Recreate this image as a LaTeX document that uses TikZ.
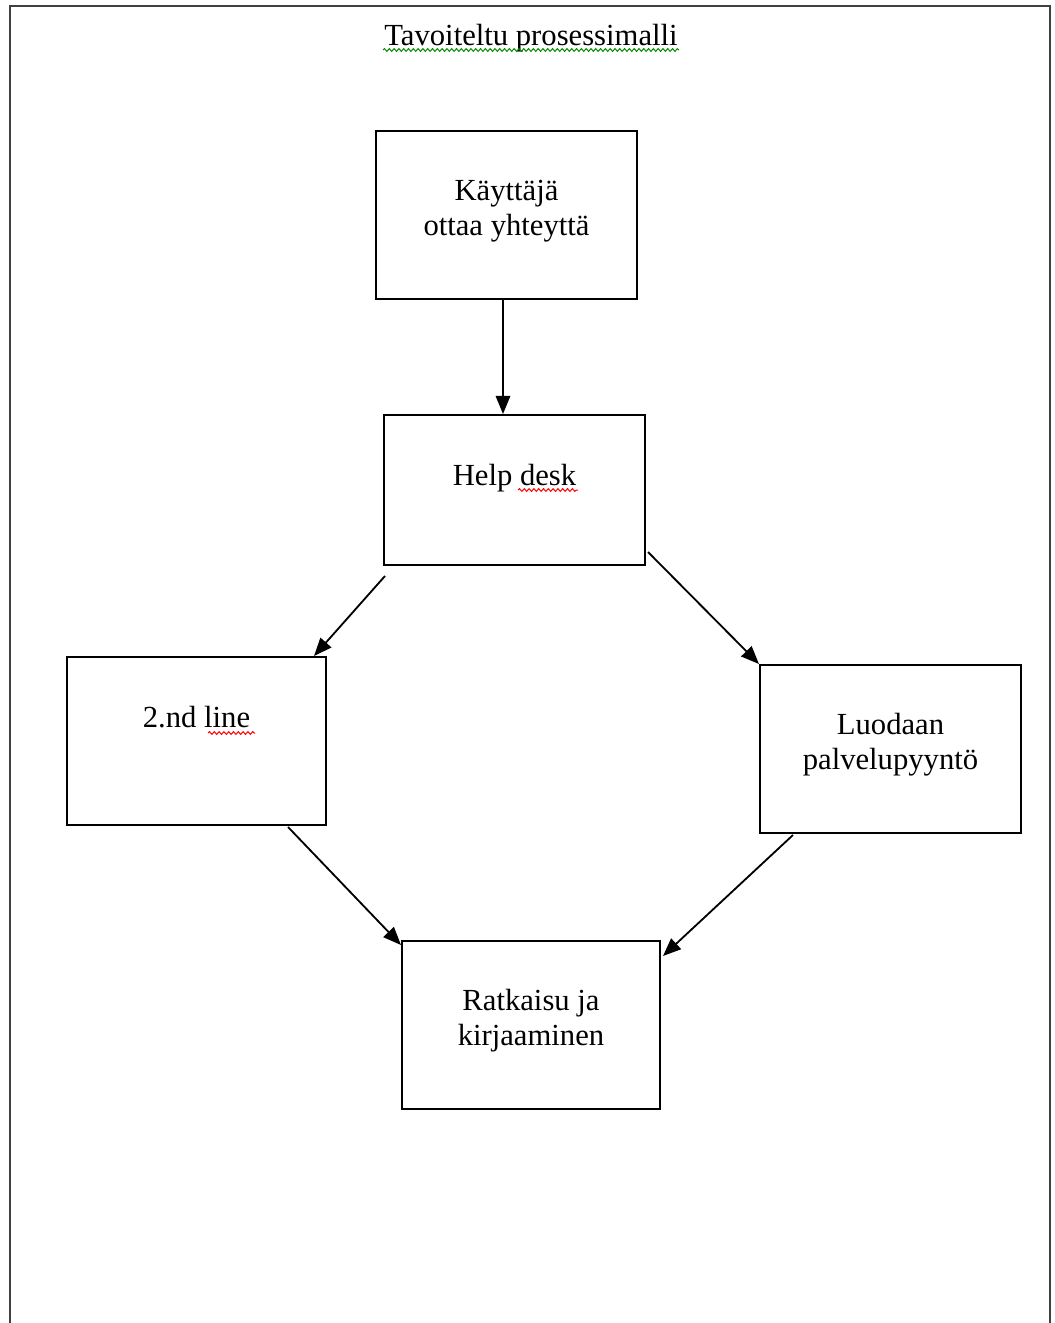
\documentclass[tikz,border=0pt]{standalone}
\usepackage{fontspec}
\setmainfont{Liberation Serif}
\usetikzlibrary{calc,arrows.meta}
\usetikzlibrary{decorations.pathmorphing}

\begin{document}
\begin{tikzpicture}[x=0.025cm, y=-0.025cm,
  stepbox/.style={draw, line width=1.4pt, minimum width=6.525cm, minimum height=4.2cm, inner sep=0pt},
  boxtext/.style={font=\fontsize{21.8}{24.2}\selectfont, align=center, anchor=base, inner sep=0pt},
  flow/.style={line width=1.3pt, -{Triangle[length=0.45cm,width=0.36cm]}},
  spellred/.style={red, line width=0.7pt, decorate, decoration={snake, amplitude=0.035cm, segment length=0.12cm}},
  spellgreen/.style={spellred, green!55!black}]
\useasboundingbox (0,0) rectangle (1054,1323);
% the page edge, open at the bottom
\draw[black!75, line width=0.05cm] (10,1323) -- (10,6) -- (1050,6) -- (1050,1323);
% title
\node[boxtext] (title) at (531,45) {Tavoiteltu prosessimalli};
\draw[spellgreen] (383,50) -- (679,50);
% the five steps
\node[stepbox] (kayt) at (506.5,215) {};
\node[stepbox, minimum height=3.75cm] (help) at (514.5,490) {};
\node[stepbox, minimum width=6.475cm] (second) at (196.5,741) {};
\node[stepbox] (luodaan) at (890.5,749) {};
\node[stepbox, minimum width=6.45cm] (ratk) at (531,1025) {};
% texts sit near the top of each box (base = last line)
\node[boxtext] (kayttext) at ($(kayt.north)+(0,105)$) {Käyttäjä\\ottaa yhteyttä};
\node[boxtext] (helptext) at ($(help.north)+(0,71)$) {Help desk};
\node[boxtext] (secondtext) at ($(second.north)+(0,71)$) {2.nd line};
\node[boxtext] (luodaantext) at ($(luodaan.north)+(0,105)$) {Luodaan\\palvelupyyntö};
\node[boxtext] (ratktext) at ($(ratk.north)+(0,105)$) {Ratkaisu ja\\kirjaaminen};
\draw[spellred] (518,490) -- (578,490);
\draw[spellred] (208,733) -- (255,733);
% flow between the steps
\draw[flow] ($(kayt.south)+(-3.5,0)$) -- ($(help.north)+(-11.5,0)$);
\draw[flow] ($(help.south west)+(2,10)$) -- ($(second.north east)+(-13,0)$);
\draw[flow] ($(help.south east)+(2,-14)$) -- (luodaan.north west);
\draw[flow] ($(second.south east)+(-39,1)$) -- ($(ratk.north west)+(0,5)$);
\draw[flow] ($(luodaan.south west)+(34,1)$) -- ($(ratk.north east)+(2,16)$);
\end{tikzpicture}
\end{document}
